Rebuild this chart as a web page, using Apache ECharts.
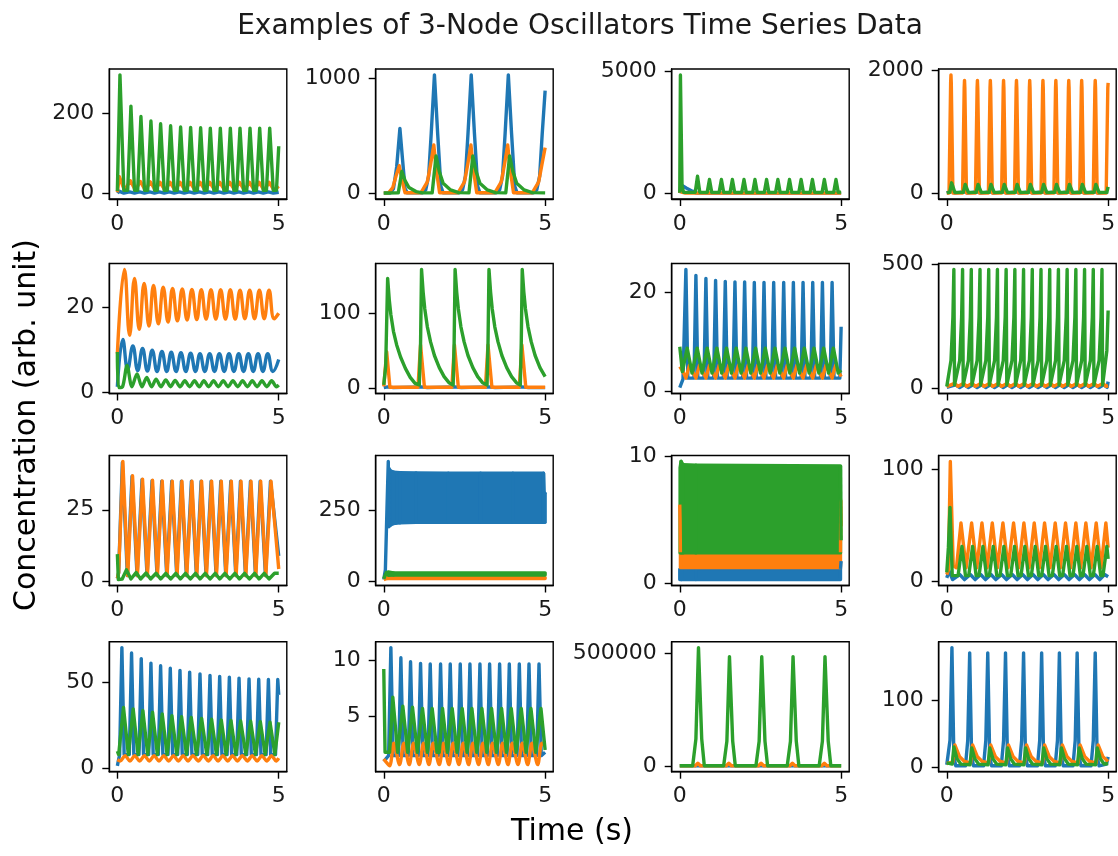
<!DOCTYPE html>
<html><head><meta charset="utf-8">
<script src="https://cdn.jsdelivr.net/npm/echarts@6.0.0/dist/echarts.min.js"></script>
<style>html,body{margin:0;padding:0;background:#fff}#c{width:1118px;height:856px}</style>
</head><body><div id="c"></div>
<script>
// ---------- text ----------
const titleText = 'Examples of 3-Node Oscillators Time Series Data';
const xLabelText = 'Time (s)';
const yLabelText = 'Concentration (arb. unit)';
// ---------- tick labels ----------
const xTicks = [0, 5];
const yTicks = [[0,200],[0,1000],[0,5000],[0,2000],[0,20],[0,100],[0,20],[0,500],[0,25],[0,250],[0,10],[0,100],[0,50],[5,10],[0,500000],[0,100]];

// ---------- data: [time, value] ----------
const p1Blue = [[0,1],[0.05,6],[0.2,1],[0.38,4],[0.53,1],[0.69,4],[0.84,1],[1.0,4],[1.15,1],[1.3,4],[1.45,1],[1.61,4],[1.76,1],[1.92,4],[2.07,1],[2.23,4],[2.38,1],[2.54,4],[2.69,1],[2.84,4],[2.99,1],[3.15,4],[3.3,1],[3.46,4],[3.61,1],[3.76,4],[3.91,1],[4.07,4],[4.22,1],[4.37,4],[4.52,1],[4.68,4],[4.83,1],[5.0,3]];
const p1Orange = [[0,3],[0.06,42],[0.22,8],[0.40,32],[0.56,8],[0.71,30],[0.87,8],[1.02,29],[1.18,8],[1.32,28],[1.48,8],[1.63,28],[1.79,8],[1.94,28],[2.10,8],[2.25,28],[2.41,8],[2.56,28],[2.72,8],[2.86,28],[3.02,8],[3.17,28],[3.33,8],[3.48,28],[3.64,8],[3.78,28],[3.94,8],[4.09,28],[4.25,8],[4.39,28],[4.55,8],[4.70,28],[4.86,8],[5.0,18]];
const p1Green = [[0,6],[0.08,296],[0.2,8],[0.32,8],[0.42,218],[0.53,8],[0.63,8],[0.73,192],[0.84,8],[0.94,8],[1.04,181],[1.15,8],[1.24,8],[1.34,174],[1.45,8],[1.55,8],[1.65,169],[1.76,8],[1.86,8],[1.96,166],[2.07,8],[2.17,8],[2.27,165],[2.38,8],[2.48,8],[2.58,164],[2.69,8],[2.78,8],[2.88,163],[2.99,8],[3.09,8],[3.19,163],[3.30,8],[3.40,8],[3.50,163],[3.61,8],[3.70,8],[3.80,163],[3.91,8],[4.01,8],[4.11,163],[4.22,8],[4.31,8],[4.41,163],[4.52,8],[4.62,8],[4.72,163],[4.83,8],[4.93,8],[5.0,118]];

const p2Blue = [[0,2],[0.2,3],[0.3,40],[0.4,230],[0.5,565],[0.58,300],[0.66,40],[0.73,4],[1.2,4],[1.3,30],[1.39,150],[1.47,520],[1.57,1030],[1.67,520],[1.77,60],[1.84,4],[2.34,4],[2.44,30],[2.53,150],[2.61,520],[2.71,1030],[2.81,520],[2.91,60],[2.98,4],[3.49,4],[3.59,30],[3.68,150],[3.76,520],[3.86,1030],[3.96,520],[4.06,60],[4.13,4],[4.64,4],[4.74,30],[4.83,150],[4.91,520],[5.0,893]];
const p2Orange = [[0,2],[0.15,5],[0.28,50],[0.38,150],[0.48,240],[0.56,120],[0.66,5],[1.15,5],[1.35,100],[1.45,250],[1.55,420],[1.63,200],[1.73,5],[2.3,5],[2.5,100],[2.6,250],[2.7,420],[2.78,200],[2.88,5],[3.44,5],[3.64,100],[3.74,250],[3.84,420],[3.92,200],[4.02,5],[4.6,5],[4.8,100],[4.9,250],[5.0,397]];
const p2Green = [[0,3],[0.45,4],[0.56,190],[0.66,110],[0.78,50],[1.0,15],[1.2,4],[1.5,4],[1.62,325],[1.72,190],[1.84,87],[2.07,29],[2.32,6],[2.64,4],[2.76,325],[2.86,190],[2.98,87],[3.21,29],[3.46,6],[3.78,4],[3.9,325],[4.0,190],[4.12,87],[4.35,29],[4.6,6],[5.0,4]];

const p3Blue = [[0,20],[0.02,250],[0.06,340],[0.2,230],[0.39,100],[0.5,30],[0.6,20],[5.0,20]];
const p3Orange = [[0,20],[0.02,150],[0.05,60],[0.15,25],[0.3,20],[5.0,20]];
const p3Green = [[0,30],[0.02,4870],[0.07,300],[0.12,50],[0.48,50],[0.55,710],[0.62,50],[0.85,50],[0.92,580],[0.99,50],[1.22,50],[1.29,580],[1.36,50],[1.56,50],[1.63,580],[1.70,50],[1.92,50],[1.99,580],[2.06,50],[2.26,50],[2.33,580],[2.40,50],[2.62,50],[2.69,580],[2.76,50],[2.97,50],[3.04,580],[3.11,50],[3.33,50],[3.40,580],[3.47,50],[3.69,50],[3.76,580],[3.83,50],[4.04,50],[4.11,580],[4.18,50],[4.41,50],[4.48,580],[4.55,50],[4.77,50],[4.84,580],[4.91,50],[5.0,60]];

const p4Blue = [[0,8],[0.13,40],[0.25,8],[0.55,30],[0.65,8],[0.95,30],[1.05,8],[1.35,30],[1.45,8],[1.76,30],[1.86,8],[2.16,30],[2.26,8],[2.57,30],[2.67,8],[2.98,30],[3.08,8],[3.38,30],[3.48,8],[3.78,30],[3.88,8],[4.18,30],[4.28,8],[4.6,30],[4.7,8],[5.0,20]];
const p4Orange = [[0,10],[0.07,10],[0.12,1800],[0.13,1930],[0.14,1800],[0.19,10],[0.49,10],[0.54,1720],[0.55,1840],[0.56,1720],[0.61,10],[0.89,10],[0.94,1720],[0.95,1840],[0.96,1720],[1.01,10],[1.29,10],[1.34,1720],[1.35,1840],[1.36,1720],[1.41,10],[1.7,10],[1.75,1720],[1.76,1840],[1.77,1720],[1.82,10],[2.1,10],[2.15,1720],[2.16,1840],[2.17,1720],[2.22,10],[2.51,10],[2.56,1720],[2.57,1840],[2.58,1720],[2.63,10],[2.92,10],[2.97,1720],[2.98,1840],[2.99,1720],[3.04,10],[3.32,10],[3.37,1720],[3.38,1840],[3.39,1720],[3.44,10],[3.72,10],[3.77,1720],[3.78,1840],[3.79,1720],[3.84,10],[4.12,10],[4.17,1720],[4.18,1840],[4.19,1720],[4.24,10],[4.54,10],[4.59,1720],[4.6,1840],[4.61,1720],[4.66,10],[4.94,10],[4.99,1720],[5.0,1800]];
const p4Green = [[0,15],[0.09,20],[0.15,175],[0.25,20],[0.51,20],[0.57,150],[0.67,20],[0.91,20],[0.97,150],[1.07,20],[1.31,20],[1.37,150],[1.47,20],[1.72,20],[1.78,150],[1.88,20],[2.12,20],[2.18,150],[2.28,20],[2.53,20],[2.59,150],[2.69,20],[2.94,20],[3.0,150],[3.1,20],[3.34,20],[3.4,150],[3.5,20],[3.74,20],[3.8,150],[3.9,20],[4.14,20],[4.2,150],[4.3,20],[4.56,20],[4.62,150],[4.72,20],[4.96,20],[5.0,110]];

const p5Blue = [[0,1.2],[0.17,12.3],[0.32,5.3],[0.48,10.8],[0.63,5],[0.78,10.2],[0.93,4.9],[1.08,9.8],[1.23,4.8],[1.38,9.5],[1.53,4.8],[1.67,9.3],[1.82,4.8],[1.97,9.2],[2.12,4.8],[2.27,9.1],[2.42,4.8],[2.56,9],[2.71,4.8],[2.86,9],[3.01,4.8],[3.16,9],[3.31,4.8],[3.46,9],[3.61,4.8],[3.76,9],[3.91,4.8],[4.06,9],[4.21,4.8],[4.36,9],[4.51,4.8],[4.66,9],[4.82,4.8],[5.0,7.6]];
const p5Orange = [[0,9],[0.22,28.8],[0.38,13.3],[0.53,26.7],[0.68,14.7],[0.83,25.5],[0.98,15.5],[1.12,25],[1.27,16],[1.42,24.6],[1.57,16.4],[1.71,24.3],[1.86,16.7],[2.01,24.2],[2.16,16.9],[2.31,24.1],[2.46,17],[2.6,24],[2.75,17.1],[2.9,24],[3.05,17.1],[3.2,24],[3.35,17.1],[3.5,24],[3.65,17.1],[3.8,23.9],[3.95,17.2],[4.1,23.9],[4.25,17.2],[4.4,23.9],[4.55,17.2],[4.7,23.9],[4.86,17.2],[5.0,18.5]];
const p5Green = [[0,9.4],[0.04,1],[0.16,1.2],[0.3,6.2],[0.45,1.2],[0.61,4.2],[0.76,1.2],[0.91,3.4],[1.06,1.2],[1.2,3],[1.35,1.2],[1.5,2.8],[1.65,1.2],[1.79,2.7],[1.94,1.2],[2.09,2.6],[2.24,1.2],[2.39,2.6],[2.54,1.2],[2.68,2.6],[2.83,1.2],[2.98,2.6],[3.13,1.2],[3.28,2.6],[3.43,1.2],[3.58,2.6],[3.73,1.2],[3.88,2.6],[4.03,1.2],[4.18,2.6],[4.33,1.2],[4.48,2.6],[4.63,1.2],[4.78,2.6],[4.93,1.2],[5.0,1.6]];

const p6Blue = [[0,1.5],[0.12,2.5],[0.3,1.5],[1.17,2.5],[1.35,1.5],[2.21,2.5],[2.4,1.5],[3.26,2.5],[3.45,1.5],[4.29,2.5],[4.48,1.5],[5.0,1.5]];
const p6Orange = [[0,3],[0.03,3],[0.09,49],[0.19,2],[1.06,2],[1.14,58],[1.26,2],[2.11,2],[2.19,58],[2.31,2],[3.15,2],[3.23,58],[3.35,2],[4.2,2],[4.28,58],[4.4,2],[5.0,2]];
const p6Green = [[0,5],[0.06,30],[0.12,146],[0.17,118],[0.22,98],[0.3,76],[0.4,58],[0.52,42],[0.67,27],[0.82,15],[0.97,7],[1.1,5],[1.14,60],[1.17,158],[1.22,128],[1.27,106],[1.35,82],[1.45,62],[1.57,44],[1.72,28],[1.87,16],[2.02,8],[2.15,5],[2.18,60],[2.21,158],[2.26,128],[2.31,106],[2.39,82],[2.49,62],[2.61,44],[2.76,28],[2.91,16],[3.06,8],[3.2,5],[3.23,60],[3.26,158],[3.31,128],[3.36,106],[3.44,82],[3.54,62],[3.66,44],[3.81,28],[3.96,16],[4.11,8],[4.23,5],[4.26,60],[4.29,158],[4.34,128],[4.39,106],[4.47,82],[4.57,62],[4.69,44],[4.84,28],[5.0,16]];

const p7Blue = [[0,0.8],[0.1,2.5],[0.19,24.5],[0.25,2.7],[0.44,2.7],[0.5,23.3],[0.56,2.7],[0.75,2.7],[0.81,22.7],[0.87,2.7],[1.05,2.7],[1.11,22.3],[1.17,2.7],[1.35,2.7],[1.41,22.1],[1.47,2.7],[1.65,2.7],[1.71,22],[1.77,2.7],[1.95,2.7],[2.01,22],[2.07,2.7],[2.25,2.7],[2.31,21.9],[2.37,2.7],[2.55,2.7],[2.61,21.9],[2.67,2.7],[2.85,2.7],[2.91,21.9],[2.97,2.7],[3.16,2.7],[3.22,21.9],[3.28,2.7],[3.46,2.7],[3.52,21.9],[3.58,2.7],[3.76,2.7],[3.82,21.9],[3.88,2.7],[4.06,2.7],[4.12,21.9],[4.18,2.7],[4.36,2.7],[4.42,21.9],[4.48,2.7],[4.66,2.7],[4.72,21.9],[4.78,2.7],[4.96,2.7],[5.0,13]];
const p7Orange = [[0,5],[0.1,4],[0.19,2.7],[0.3,5.3],[0.5,2.7],[0.61,5.3],[0.81,2.7],[0.92,5.3],[1.11,2.7],[1.22,5.3],[1.41,2.7],[1.52,5.3],[1.71,2.7],[1.82,5.3],[2.01,2.7],[2.12,5.3],[2.31,2.7],[2.42,5.3],[2.61,2.7],[2.72,5.3],[2.91,2.7],[3.02,5.3],[3.22,2.7],[3.33,5.3],[3.52,2.7],[3.63,5.3],[3.82,2.7],[3.93,5.3],[4.12,2.7],[4.23,5.3],[4.42,2.7],[4.53,5.3],[4.72,2.7],[4.83,5.3],[5.0,3]];
const p7Green = [[0,9],[0.08,4],[0.14,3.8],[0.23,8.7],[0.38,3.7],[0.54,8.7],[0.69,3.7],[0.85,8.7],[1.0,3.7],[1.15,8.7],[1.3,3.7],[1.45,8.7],[1.6,3.7],[1.75,8.7],[1.9,3.7],[2.05,8.7],[2.2,3.7],[2.35,8.7],[2.5,3.7],[2.65,8.7],[2.8,3.7],[2.95,8.7],[3.1,3.7],[3.26,8.7],[3.41,3.7],[3.56,8.7],[3.71,3.7],[3.86,8.7],[4.01,3.7],[4.16,8.7],[4.31,3.7],[4.46,8.7],[4.61,3.7],[4.76,8.7],[4.91,3.7],[5.0,4.3]];

const p8Blue = [[0,2],[0.27,12],[0.4,1],[0.54,12],[0.67,1],[0.81,12],[0.94,1],[1.08,12],[1.21,1],[1.35,12],[1.48,1],[1.62,12],[1.75,1],[1.89,12],[2.02,1],[2.16,12],[2.29,1],[2.43,12],[2.56,1],[2.7,12],[2.83,1],[2.97,12],[3.1,1],[3.24,12],[3.37,1],[3.51,12],[3.64,1],[3.78,12],[3.91,1],[4.05,12],[4.18,1],[4.32,12],[4.45,1],[4.59,12],[4.72,1],[4.86,12],[4.97,2],[5.0,25]];
const p8Orange = [[0,5],[0.24,18],[0.35,6],[0.51,18],[0.62,6],[0.78,18],[0.89,6],[1.05,18],[1.16,6],[1.32,18],[1.43,6],[1.59,18],[1.7,6],[1.86,18],[1.97,6],[2.13,18],[2.24,6],[2.4,18],[2.51,6],[2.67,18],[2.78,6],[2.94,18],[3.05,6],[3.21,18],[3.32,6],[3.48,18],[3.59,6],[3.75,18],[3.86,6],[4.02,18],[4.13,6],[4.29,18],[4.4,6],[4.56,18],[4.67,6],[4.83,18],[4.94,6],[5.0,9]];
const p8Green = [[0,5],[0.02,10],[0.13,110],[0.19,285],[0.22,478],[0.24,12],[0.29,10],[0.4,110],[0.46,285],[0.49,478],[0.51,12],[0.56,10],[0.67,110],[0.73,285],[0.76,478],[0.78,12],[0.83,10],[0.94,110],[1.0,285],[1.03,478],[1.05,12],[1.1,10],[1.21,110],[1.27,285],[1.3,478],[1.32,12],[1.37,10],[1.48,110],[1.54,285],[1.57,478],[1.59,12],[1.64,10],[1.75,110],[1.81,285],[1.84,478],[1.86,12],[1.91,10],[2.02,110],[2.08,285],[2.11,478],[2.13,12],[2.18,10],[2.29,110],[2.35,285],[2.38,478],[2.4,12],[2.45,10],[2.56,110],[2.62,285],[2.65,478],[2.67,12],[2.72,10],[2.83,110],[2.89,285],[2.92,478],[2.94,12],[2.99,10],[3.1,110],[3.16,285],[3.19,478],[3.21,12],[3.26,10],[3.37,110],[3.43,285],[3.46,478],[3.48,12],[3.53,10],[3.64,110],[3.7,285],[3.73,478],[3.75,12],[3.8,10],[3.91,110],[3.97,285],[4.0,478],[4.02,12],[4.07,10],[4.18,110],[4.24,285],[4.27,478],[4.29,12],[4.34,10],[4.45,110],[4.51,285],[4.54,478],[4.56,12],[4.61,10],[4.72,110],[4.78,285],[4.81,478],[4.83,12],[4.88,10],[4.96,150],[5.0,312]];

const p9Blue = [[0,1],[0.04,3],[0.155,41.5],[0.31,2],[0.455,36.7],[0.61,2],[0.765,35.6],[0.92,2],[1.075,35.2],[1.23,2],[1.375,35],[1.53,2],[1.685,35],[1.84,2],[1.985,35],[2.14,2],[2.295,35],[2.45,2],[2.595,35],[2.75,2],[2.905,35],[3.06,2],[3.205,35],[3.36,2],[3.515,35],[3.67,2],[3.815,35],[3.97,2],[4.125,35],[4.28,2],[4.425,35],[4.59,2],[4.745,35],[5.0,8.9]];
const p9Orange = [[0,1],[0.04,3],[0.17,41.9],[0.32,2],[0.47,36.9],[0.62,2],[0.78,35.7],[0.93,2],[1.09,35.3],[1.24,2],[1.39,35.1],[1.54,2],[1.7,35],[1.85,2],[2.0,35],[2.15,2],[2.31,35],[2.46,2],[2.61,35],[2.76,2],[2.92,35],[3.07,2],[3.22,35],[3.37,2],[3.53,35],[3.68,2],[3.83,35],[3.98,2],[4.14,35],[4.29,2],[4.44,35],[4.6,2],[4.76,35],[5.0,4.3]];
const p9Green = [[0,9.5],[0.03,0.6],[0.15,0.8],[0.28,4],[0.42,0.8],[0.58,3.1],[0.72,0.8],[0.89,2.9],[1.03,0.8],[1.2,2.8],[1.34,0.8],[1.5,2.8],[1.65,0.8],[1.81,2.8],[1.95,0.8],[2.11,2.8],[2.26,0.8],[2.42,2.8],[2.56,0.8],[2.72,2.8],[2.87,0.8],[3.03,2.8],[3.17,0.8],[3.33,2.8],[3.48,0.8],[3.64,2.8],[3.78,0.8],[3.94,2.8],[4.09,0.8],[4.25,2.8],[4.39,0.8],[4.55,2.8],[4.7,0.8],[4.87,2.8],[5.0,2.8]];

// very fast oscillations, read as envelope bands: [time, low, high]
const p10BlueLine = [[0,5],[0.05,40],[0.1,260],[0.14,425],[0.16,193]];
const p10BlueBand = [[0.16,193,400],[0.2,198,392],[0.3,204,387],[0.5,207,385],[1,209,384],[2,209,383],[3,209,383],[4,209,383],[4.95,209,383],[4.97,209,312],[5.0,209,312]];
const p10OrangeLine = [[0,5],[0.1,9]];
const p10OrangeBand = [[0.1,9,13],[5.0,9,12]];
const p10GreenLine = [[0,8],[0.08,30],[0.14,22]];
const p10GreenBand = [[0.14,20,32],[0.3,21,29],[5.0,21,29]];

const p11BlueBand = [[0,0.3,1.1],[0.05,0.3,1.2],[0.5,0.3,1.15],[4.98,0.3,1.15]];
const p11BlueTail = [[4.98,1.15],[5.0,1.75]];
const p11OrangeLine = [[0,6.2],[0.01,5.0],[0.02,2.45]];
const p11OrangeBand = [[0.02,1.25,2.45],[4.98,1.25,2.45]];
const p11OrangeTail = [[4.98,2.45],[4.99,6.5],[5.0,4.5]];
const p11GreenBand = [[0.01,2.4,9.1],[0.04,2.4,9.6],[0.1,2.4,9.35],[0.5,2.4,9.3],[4.98,2.4,9.25]];
const p11GreenTail = [[4.98,9.25],[5.0,3.4]];

const p12Blue = [[0,3],[0.07,9],[0.18,1.5],[0.4,6],[0.55,1.5],[0.73,6],[0.88,1.5],[1.05,6],[1.2,1.5],[1.37,6],[1.52,1.5],[1.7,6],[1.85,1.5],[2.03,6],[2.18,1.5],[2.35,6],[2.5,1.5],[2.67,6],[2.82,1.5],[2.99,6],[3.14,1.5],[3.32,6],[3.47,1.5],[3.64,6],[3.79,1.5],[3.96,6],[4.11,1.5],[4.27,6],[4.42,1.5],[4.59,6],[4.74,1.5],[4.89,6],[5.0,4]];
const p12Orange = [[0,6],[0.05,10],[0.11,107],[0.2,14],[0.3,12],[0.44,52],[0.6,12],[0.77,52],[0.93,12],[1.09,52],[1.25,12],[1.41,52],[1.57,12],[1.74,52],[1.9,12],[2.07,52],[2.23,12],[2.39,52],[2.55,12],[2.71,52],[2.87,12],[3.03,52],[3.2,12],[3.36,52],[3.52,12],[3.68,52],[3.84,12],[4.0,52],[4.15,12],[4.31,52],[4.47,12],[4.63,52],[4.78,12],[4.93,52],[5.0,30]];
const p12Green = [[0,8],[0.05,30],[0.1,66],[0.17,5],[0.35,5],[0.47,31],[0.58,5],[0.68,5],[0.8,31],[0.91,5],[1.0,5],[1.12,31],[1.23,5],[1.32,5],[1.44,31],[1.55,5],[1.65,5],[1.77,31],[1.88,5],[1.98,5],[2.1,31],[2.21,5],[2.3,5],[2.42,31],[2.53,5],[2.62,5],[2.74,31],[2.85,5],[2.94,5],[3.06,31],[3.17,5],[3.27,5],[3.39,31],[3.5,5],[3.59,5],[3.71,31],[3.82,5],[3.91,5],[4.03,31],[4.14,5],[4.22,5],[4.34,31],[4.45,5],[4.54,5],[4.66,31],[4.77,5],[4.84,5],[4.96,31],[5.0,20]];

const p13Blue = [[0,1.5],[0.07,8],[0.14,70],[0.21,8],[0.37,8],[0.44,66.9],[0.51,8],[0.67,8],[0.74,63.6],[0.81,8],[0.97,8],[1.04,61],[1.11,8],[1.27,8],[1.34,59.5],[1.41,8],[1.57,8],[1.64,58],[1.71,8],[1.87,8],[1.94,56.8],[2.01,8],[2.17,8],[2.24,55.8],[2.31,8],[2.49,8],[2.56,54.8],[2.63,8],[2.8,8],[2.87,53.9],[2.94,8],[3.1,8],[3.17,53.3],[3.24,8],[3.4,8],[3.47,52.9],[3.54,8],[3.7,8],[3.77,52.3],[3.84,8],[4.01,8],[4.08,51.9],[4.15,8],[4.31,8],[4.38,51.7],[4.45,8],[4.61,8],[4.68,51.5],[4.75,8],[4.9,8],[4.97,51.5],[5.0,42.6]];
const p13Orange = [[0,5],[0.09,4.3],[0.24,7.4],[0.39,4.3],[0.54,7.4],[0.69,4.3],[0.84,7.4],[0.99,4.3],[1.14,7.4],[1.29,4.3],[1.44,7.4],[1.59,4.3],[1.74,7.4],[1.89,4.3],[2.04,7.4],[2.19,4.3],[2.34,7.4],[2.51,4.3],[2.66,7.4],[2.82,4.3],[2.97,7.4],[3.12,4.3],[3.27,7.4],[3.42,4.3],[3.57,7.4],[3.72,4.3],[3.87,7.4],[4.03,4.3],[4.18,7.4],[4.33,4.3],[4.48,7.4],[4.63,4.3],[4.78,7.4],[4.92,4.3],[5.0,6]];
const p13Green = [[0,10],[0.04,8],[0.19,35.3],[0.34,8],[0.49,34.5],[0.64,8],[0.79,33.5],[0.94,8],[1.09,32.5],[1.24,8],[1.39,31.5],[1.54,8],[1.69,30.5],[1.84,8],[1.99,30],[2.14,8],[2.29,29.5],[2.45,8],[2.61,29],[2.77,8],[2.92,28.5],[3.07,8],[3.22,28],[3.37,8],[3.52,27.8],[3.67,8],[3.82,27.5],[3.98,8],[4.13,27.3],[4.28,8],[4.43,27],[4.58,8],[4.73,26.8],[4.88,8],[5.0,26.7]];

const p14Blue = [[0,1],[0.15,1.5],[0.22,11.1],[0.29,1.5],[0.46,1.5],[0.53,10.2],[0.6,1.5],[0.76,1.5],[0.83,9.85],[0.9,1.5],[1.07,1.5],[1.14,9.7],[1.21,1.5],[1.37,1.5],[1.44,9.65],[1.51,1.5],[1.69,1.5],[1.76,9.65],[1.83,1.5],[1.99,1.5],[2.06,9.65],[2.13,1.5],[2.3,1.5],[2.37,9.65],[2.44,1.5],[2.6,1.5],[2.67,9.65],[2.74,1.5],[2.91,1.5],[2.98,9.65],[3.05,1.5],[3.21,1.5],[3.28,9.65],[3.35,1.5],[3.52,1.5],[3.59,9.65],[3.66,1.5],[3.82,1.5],[3.89,9.65],[3.96,1.5],[4.13,1.5],[4.2,9.65],[4.27,1.5],[4.43,1.5],[4.5,9.65],[4.57,1.5],[4.74,1.5],[4.81,9.65],[4.88,1.5],[5.0,1.8]];
const p14Orange = [[0,1.2],[0.18,0.6],[0.31,2.6],[0.49,0.7],[0.62,2.6],[0.79,0.7],[0.92,2.6],[1.1,0.7],[1.23,2.6],[1.4,0.7],[1.53,2.6],[1.72,0.7],[1.85,2.6],[2.02,0.7],[2.15,2.6],[2.33,0.7],[2.46,2.6],[2.63,0.7],[2.76,2.6],[2.94,0.7],[3.07,2.6],[3.24,0.7],[3.37,2.6],[3.55,0.7],[3.68,2.6],[3.85,0.7],[3.98,2.6],[4.16,0.7],[4.29,2.6],[4.46,0.7],[4.59,2.6],[4.77,0.7],[4.9,2.6],[5.0,2.4]];
const p14Green = [[0,9.2],[0.04,1.8],[0.18,1.8],[0.28,6.7],[0.43,1.8],[0.49,1.8],[0.59,5.9],[0.74,1.8],[0.79,1.8],[0.89,5.8],[1.04,1.8],[1.1,1.8],[1.2,5.7],[1.35,1.8],[1.4,1.8],[1.5,5.7],[1.65,1.8],[1.72,1.8],[1.82,5.7],[1.97,1.8],[2.02,1.8],[2.12,5.7],[2.27,1.8],[2.33,1.8],[2.43,5.7],[2.58,1.8],[2.63,1.8],[2.73,5.7],[2.88,1.8],[2.94,1.8],[3.04,5.7],[3.19,1.8],[3.24,1.8],[3.34,5.7],[3.49,1.8],[3.55,1.8],[3.65,5.7],[3.8,1.8],[3.85,1.8],[3.95,5.7],[4.1,1.8],[4.16,1.8],[4.26,5.7],[4.41,1.8],[4.46,1.8],[4.56,5.7],[4.71,1.8],[4.77,1.8],[4.87,5.7],[5.0,2.0]];

const p15Blue = [[0,500],[5.0,500]];
const p15Orange = [[0,500],[0.48,500],[0.56,12000],[0.64,500],[1.44,500],[1.52,12000],[1.6,500],[2.44,500],[2.52,12000],[2.6,500],[3.41,500],[3.49,12000],[3.57,500],[4.4,500],[4.48,12000],[4.56,500],[5.0,500]];
const p15Green = [[0,1000],[0.4,1000],[0.5,120000],[0.58,525000],[0.68,120000],[0.76,1000],[1.36,1000],[1.46,110000],[1.54,485000],[1.64,110000],[1.72,1000],[2.36,1000],[2.46,110000],[2.54,485000],[2.64,110000],[2.72,1000],[3.33,1000],[3.43,110000],[3.51,485000],[3.61,110000],[3.69,1000],[4.32,1000],[4.42,110000],[4.5,485000],[4.6,110000],[4.68,1000],[5.0,1000]];

const p16Blue = [[0,3],[0.03,3],[0.1,40],[0.16,180],[0.22,15],[0.28,1.5],[0.58,1.5],[0.65,40],[0.71,172],[0.77,15],[0.83,1.5],[1.14,1.5],[1.21,40],[1.27,172],[1.33,15],[1.39,1.5],[1.69,1.5],[1.76,40],[1.82,172],[1.88,15],[1.94,1.5],[2.25,1.5],[2.32,40],[2.38,172],[2.44,15],[2.5,1.5],[2.81,1.5],[2.88,40],[2.94,172],[3.0,15],[3.06,1.5],[3.36,1.5],[3.43,40],[3.49,172],[3.55,15],[3.61,1.5],[3.91,1.5],[3.98,40],[4.04,172],[4.1,15],[4.16,1.5],[4.47,1.5],[4.54,40],[4.6,172],[4.66,15],[4.72,1.5],[4.95,4],[5.0,15]];
const p16Orange = [[0,5],[0.19,7],[0.25,33],[0.4,15],[0.55,8],[0.74,6],[0.8,33],[0.95,15],[1.1,8],[1.3,6],[1.36,33],[1.51,15],[1.66,8],[1.85,6],[1.91,33],[2.06,15],[2.21,8],[2.41,6],[2.47,33],[2.62,15],[2.77,8],[2.97,6],[3.03,33],[3.18,15],[3.33,8],[3.52,6],[3.58,33],[3.73,15],[3.88,8],[4.07,6],[4.13,33],[4.28,15],[4.43,8],[4.63,6],[4.69,33],[4.84,15],[5.0,8]];
const p16Green = [[0,6],[0.17,4],[0.22,30],[0.32,12],[0.44,4],[0.72,3],[0.77,28.6],[0.87,12],[0.99,4],[1.28,3],[1.33,28.6],[1.43,12],[1.55,4],[1.83,3],[1.88,28.6],[1.98,12],[2.1,4],[2.39,3],[2.44,28.6],[2.54,12],[2.66,4],[2.95,3],[3.0,28.6],[3.1,12],[3.22,4],[3.5,3],[3.55,28.6],[3.65,12],[3.77,4],[4.05,3],[4.1,28.6],[4.2,12],[4.32,4],[4.61,3],[4.66,28.6],[4.76,12],[4.88,4],[5.0,5]];

// ---------- styling / layout ----------
const BLUE = '#1f77b4', ORANGE = '#ff7f0e', GREEN = '#2ca02c';
const SMOOTH = 0.45;
// [data, colour, kind, smoothing]
const panels = [
  [[p1Blue,BLUE],[p1Orange,ORANGE],[p1Green,GREEN]],
  [[p2Blue,BLUE],[p2Orange,ORANGE],[p2Green,GREEN]],
  [[p3Blue,BLUE],[p3Orange,ORANGE],[p3Green,GREEN]],
  [[p4Blue,BLUE],[p4Orange,ORANGE],[p4Green,GREEN]],
  [[p5Blue,BLUE,'line',SMOOTH],[p5Orange,ORANGE,'line',SMOOTH],[p5Green,GREEN,'line',0.3]],
  [[p6Blue,BLUE],[p6Orange,ORANGE],[p6Green,GREEN]],
  [[p7Blue,BLUE],[p7Orange,ORANGE],[p7Green,GREEN]],
  [[p8Blue,BLUE],[p8Orange,ORANGE],[p8Green,GREEN]],
  [[p9Blue,BLUE],[p9Orange,ORANGE],[p9Green,GREEN]],
  [[p10BlueLine,BLUE],[p10BlueBand,BLUE,'band'],[p10OrangeLine,ORANGE],[p10OrangeBand,ORANGE,'band'],[p10GreenLine,GREEN],[p10GreenBand,GREEN,'band']],
  [[p11BlueBand,BLUE,'band'],[p11BlueTail,BLUE],[p11OrangeLine,ORANGE],[p11OrangeBand,ORANGE,'band'],[p11OrangeTail,ORANGE],[p11GreenBand,GREEN,'band'],[p11GreenTail,GREEN]],
  [[p12Blue,BLUE],[p12Orange,ORANGE],[p12Green,GREEN]],
  [[p13Blue,BLUE],[p13Orange,ORANGE,'line',0.3],[p13Green,GREEN]],
  [[p14Blue,BLUE],[p14Orange,ORANGE,'line',0.3],[p14Green,GREEN]],
  [[p15Blue,BLUE],[p15Orange,ORANGE],[p15Green,GREEN]],
  [[p16Blue,BLUE],[p16Orange,ORANGE],[p16Green,GREEN]]
];
const colLeft = [109.3, 375.7, 671.7, 938.7];
const rowTop = [69, 263.5, 455.5, 641.7];
const W = 177.5, H = 130;
const TXT = '#1a1a1a';
const FONT = 'DejaVu Sans';
const LW = 3.4;

const grids = [], xAxes = [], yAxes = [], series = [];
panels.forEach((items, i) => {
  const r = Math.floor(i / 4), c = i % 4;
  grids.push({left: colLeft[c], top: rowTop[r], width: W, height: H, show: true,
    borderColor: '#000', borderWidth: 1.4, backgroundColor: 'transparent', containLabel: false, outerBoundsMode: 'none'});
  let lo = Infinity, hi = -Infinity;
  items.forEach(([d, col, kind]) => d.forEach(p => {
    const vals = kind === 'band' ? [p[1], p[2]] : [p[1]];
    vals.forEach(v => { lo = Math.min(lo, v); hi = Math.max(hi, v); });
  }));
  const pad = (hi - lo) * 0.05;
  const axisCommon = {
    axisLine: {show: true, onZero: false, lineStyle: {color: '#000', width: 1.4}},
    splitLine: {show: false}
  };
  xAxes.push(Object.assign({type: 'value', gridIndex: i, min: -0.25, max: 5.25,
    axisTick: {show: true, inside: false, length: 7, customValues: xTicks, lineStyle: {color: '#000', width: 1.4}},
    axisLabel: {customValues: xTicks, fontFamily: FONT, fontSize: 22, color: TXT, margin: 14, formatter: v => String(v)}
  }, axisCommon));
  yAxes.push(Object.assign({type: 'value', gridIndex: i, min: lo - pad, max: hi + pad,
    axisTick: {show: true, inside: false, length: 7, customValues: yTicks[i], lineStyle: {color: '#000', width: 1.4}},
    axisLabel: {customValues: yTicks[i], fontFamily: FONT, fontSize: 22, color: TXT, margin: 15, formatter: v => String(v)}
  }, axisCommon));
  items.forEach(([d, col, kind, sm]) => {
    if (kind === 'band') {
      // envelope of an unresolvably fast oscillation: filled between low and high
      series.push({type: 'custom', xAxisIndex: i, yAxisIndex: i, silent: true, animation: false, clip: true,
        data: d, encode: {x: 0, y: [1, 2]},
        renderItem: (params, api) => {
          const k = params.dataIndex;
          if (k >= d.length - 1) return null;
          const a = d[k], b = d[k + 1];
          const pts = [api.coord([a[0], a[1]]), api.coord([b[0], b[1]]), api.coord([b[0], b[2]]), api.coord([a[0], a[2]])];
          return {type: 'polygon', shape: {points: pts}, style: {fill: col, stroke: col, lineWidth: LW, lineJoin: 'round'}};
        }});
    } else {
      series.push({type: 'line', xAxisIndex: i, yAxisIndex: i, showSymbol: false, symbol: 'none',
        silent: true, animation: false, clip: true, itemStyle: {color: col}, smooth: sm || false,
        lineStyle: {color: col, width: LW, join: 'round'}, data: d});
    }
  });
});

const chart = echarts.init(document.getElementById('c'), null, {renderer: 'canvas'});
chart.setOption({
  backgroundColor: '#fff',
  animation: false,
  grid: grids, xAxis: xAxes, yAxis: yAxes, series: series,
  graphic: [
    {type: 'text', x: 580, y: 27, style: {text: titleText, font: '28px "DejaVu Sans"', fill: TXT, textAlign: 'center', textVerticalAlign: 'middle'}},
    {type: 'text', x: 572, y: 832, style: {text: xLabelText, font: '30px "DejaVu Sans"', fill: '#000', textAlign: 'center', textVerticalAlign: 'middle'}},
    {type: 'text', x: 27, y: 425, rotation: Math.PI / 2, style: {text: yLabelText, font: '30px "DejaVu Sans"', fill: '#000', textAlign: 'center', textVerticalAlign: 'middle'}}
  ]
});
</script>
</body></html>
